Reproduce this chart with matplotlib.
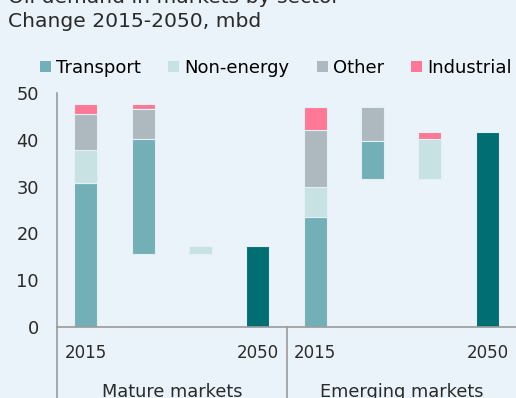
import matplotlib
matplotlib.use('Agg')
import matplotlib.pyplot as plt
from matplotlib.patches import Patch

plt.rcParams['font.family'] = 'DejaVu Sans'

sectors = ['Transport', 'Non-energy', 'Other', 'Industrial']
colors = ['#72afb6', '#c8e1e3', '#adb8bf', '#ff7896']
final_color = '#006e73'

groups = ['Mature markets', 'Emerging markets']
# demand by sector in 2015 and change to 2050, mbd
base_2015 = {
    'Mature markets': [30.7, 7.1, 7.8, 2.0],
    'Emerging markets': [23.6, 6.4, 12.2, 4.9],
}
change = {
    'Mature markets': [-24.4, 1.7, -6.5, -1.0],
    'Emerging markets': [-8.1, 8.4, -7.3, 1.5],
}
year_labels = ['2015', '2050']

bg = '#eaf3f9'
txt = '#2a2a2a'
fig = plt.figure(figsize=(5.16, 3.98), dpi=100, facecolor=bg)
ax = fig.add_axes([57 / 516, 71 / 398, 1 - 57 / 516, 234 / 398], facecolor=bg)

w = 0.4
edge = dict(edgecolor='#e3f0f4', linewidth=0.8)
for g, name in enumerate(groups):
    x0 = g * 4
    # 2015 stacked bar
    bottom = 0
    for v, c in zip(base_2015[name], colors):
        ax.bar(x0, v, w, bottom=bottom, color=c, **edge)
        bottom += v
    total = bottom
    # decreases, stepping down from the 2015 total
    level = total
    for v, c in reversed(list(zip(change[name], colors))):
        if v < 0:
            ax.bar(x0 + 1, v, w, bottom=level, color=c, **edge)
            level += v
    # increases, stepping up again
    for v, c in zip(change[name], colors):
        if v > 0:
            ax.bar(x0 + 2, v, w, bottom=level, color=c, **edge)
            level += v
    # 2050 total
    ax.bar(x0 + 3, level, w, color=final_color, **edge)

ax.set_xlim(-0.5, 7.5)
ax.set_ylim(0, 50)
ax.set_yticks(range(0, 51, 10))
ax.tick_params(axis='y', length=0, labelsize=12.8, pad=13, labelcolor=txt)
ax.set_xticks([])
for s in ['top', 'right']:
    ax.spines[s].set_visible(False)
for s in ['left', 'bottom']:
    ax.spines[s].set_color('#9a9a9a')
    ax.spines[s].set_linewidth(1.2)

# category axis: year labels, group labels and separators
drop = 71 / 234
for g, name in enumerate(groups):
    x0 = g * 4
    ax.text(x0, -5.5, year_labels[0], ha='center', va='center', fontsize=12, color=txt)
    ax.text(x0 + 3, -5.5, year_labels[1], ha='center', va='center', fontsize=12, color=txt)
    ax.text(x0 + 1.5, -13.9, name, ha='center', va='center', fontsize=12.8, color=txt)
for xs in [-0.5, 3.5]:
    ax.plot([xs, xs], [0, -50 * drop], color='#9a9a9a', lw=1.2, clip_on=False,
            transform=ax.transData)

fig.text(8 / 516, 395 / 398, 'Oil demand in markets by sector', fontsize=14.6,
         va='baseline', color=txt)
fig.text(8 / 516, 371 / 398, 'Change 2015-2050, mbd', fontsize=14.6,
         va='baseline', color=txt)

handles = [Patch(facecolor=c, edgecolor='none') for c in colors]
fig.legend(handles, sectors, loc='center left', bbox_to_anchor=(40 / 516, 330 / 398), ncol=4,
           frameon=False, fontsize=13, handlelength=0.6, handleheight=0.6,
           handletextpad=0.3, columnspacing=1.5, borderaxespad=0, borderpad=0)

fig.savefig('out.png', dpi=100, facecolor=bg)
